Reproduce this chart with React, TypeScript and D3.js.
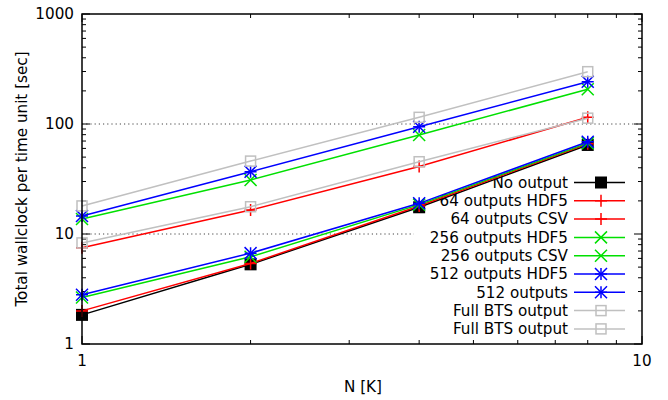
import React from "react";
import * as d3 from "d3";

const nValues = [1, 2, 4, 8];
const seriesNames = [
  "No output",
  "64 outputs HDF5",
  "64 outputs CSV",
  "256 outputs HDF5",
  "256 outputs CSV",
  "512 outputs HDF5",
  "512 outputs",
  "Full BTS output",
  "Full BTS output",
];
const noOutput = [1.84, 5.3, 17.5, 64.5];
const hdf5_64 = [2.0, 5.4, 18.0, 66];
const csv_64 = [7.5, 16.5, 41, 115];
const hdf5_256 = [2.65, 6.2, 18.5, 67];
const csv_256 = [13.7, 31, 79.5, 207];
const hdf5_512 = [2.8, 6.7, 19.0, 69];
const out_512 = [14.6, 36.8, 94.5, 242];
const bts_a = [8.3, 17.7, 45.4, 113];
const bts_b = [18.0, 46, 115, 299];
const seriesColors = ["#000000", "#ff0000", "#ff0000", "#00e000", "#00e000", "#0000ff", "#0000ff", "#c0c0c0", "#c0c0c0"];
const seriesMarkers = ["fsquare", "plus", "plus", "cross", "cross", "star", "star", "osquare", "osquare"];
const seriesValues = [noOutput, hdf5_64, csv_64, hdf5_256, csv_256, hdf5_512, out_512, bts_a, bts_b];
const yTickValues = [1, 10, 100, 1000];
const xTickValues = [1, 10];

const W = 668, H = 400;
const left = 82, right = 642, top = 14, bottom = 344;
const FONT = "DejaVu Sans, sans-serif";
const FS = 15.2;

function Marker({ type, x, y, color }: { type: string; x: number; y: number; color: string }) {
  const s = 6;
  const sw = 1.5;
  if (type === "fsquare") return <rect x={x - s} y={y - s} width={2 * s} height={2 * s} fill={color} />;
  if (type === "osquare") return <rect x={x - 5} y={y - 5} width={10} height={10} fill="none" stroke={color} strokeWidth={sw} />;
  const plus = <path d={`M${x - s},${y}H${x + s}M${x},${y - s}V${y + s}`} stroke={color} strokeWidth={sw} />;
  const cross = <path d={`M${x - s},${y - s}L${x + s},${y + s}M${x - s},${y + s}L${x + s},${y - s}`} stroke={color} strokeWidth={sw} />;
  if (type === "plus") return plus;
  if (type === "cross") return cross;
  return <g>{plus}{cross}</g>;
}

export default function App() {
  const x = d3.scaleLog().domain([1, 10]).range([left, right]);
  const y = d3.scaleLog().domain([1, 1000]).range([bottom, top]);
  const line = d3.line<number>().x((_, i) => x(nValues[i])).y((d) => y(d));

  const yMinor: number[] = [];
  for (let dec = 1; dec < 1000; dec *= 10) for (let k = 2; k <= 9; k++) yMinor.push(dec * k);
  const xMinor: number[] = [];
  for (let k = 2; k <= 9; k++) xMinor.push(k);

  const legendY0 = 182.5, legendDy = 18.3;
  const nL = seriesNames.length;

  return (
    <svg width={W} height={H} style={{ display: "block", position: "absolute", left: 0, top: 0 }} fontFamily={FONT}>
      <rect width={W} height={H} fill="#fff" />
      {/* grid */}
      {yTickValues.filter((v) => v > 1 && v < 1000).map((v) => (
        <line key={"g" + v} x1={left} x2={right} y1={y(v)} y2={y(v)} stroke="#444" strokeWidth={1} strokeDasharray="1.2,3" />
      ))}
      {/* opaque key background */}
      <rect x={414} y={legendY0 - 10} width={right - 1 - 414} height={(nL - 1) * legendDy + 20} fill="#fff" />
      {/* ticks */}
      {yTickValues.map((v) => (
        <g key={"yt" + v}>
          <line x1={left} x2={left + 8} y1={y(v)} y2={y(v)} stroke="#000" />
          <line x1={right} x2={right - 8} y1={y(v)} y2={y(v)} stroke="#000" />
          <text x={left - 8} y={y(v)} dy="0.35em" textAnchor="end" fontSize={FS}>{v}</text>
        </g>
      ))}
      {yMinor.map((v) => (
        <g key={"ym" + v}>
          <line x1={left} x2={left + 4} y1={y(v)} y2={y(v)} stroke="#000" />
          <line x1={right} x2={right - 4} y1={y(v)} y2={y(v)} stroke="#000" />
        </g>
      ))}
      {xTickValues.map((v) => (
        <g key={"xt" + v}>
          <line x1={x(v)} x2={x(v)} y1={bottom} y2={bottom - 8} stroke="#000" />
          <line x1={x(v)} x2={x(v)} y1={top} y2={top + 8} stroke="#000" />
          <text x={x(v)} y={bottom + 22} textAnchor="middle" fontSize={FS}>{v}</text>
        </g>
      ))}
      {xMinor.map((v) => (
        <g key={"xm" + v}>
          <line x1={x(v)} x2={x(v)} y1={bottom} y2={bottom - 4} stroke="#000" />
          <line x1={x(v)} x2={x(v)} y1={top} y2={top + 4} stroke="#000" />
        </g>
      ))}
      {/* legend */}
      {seriesNames.map((name, si) => {
        const ly = legendY0 + si * legendDy;
        return (
          <g key={"l" + si}>
            <text x={568} y={ly} dy="0.35em" textAnchor="end" fontSize={FS}>{name}</text>
            <line x1={574} x2={625} y1={ly} y2={ly} stroke={seriesColors[si]} strokeWidth={1.5} />
            <Marker type={seriesMarkers[si]} x={601} y={ly} color={seriesColors[si]} />
          </g>
        );
      })}
      {/* series */}
      {seriesValues.map((vals, si) => (
        <g key={"s" + si}>
          <path d={line(vals) || ""} fill="none" stroke={seriesColors[si]} strokeWidth={1.5} />
          {vals.map((v, i) => (
            <Marker key={i} type={seriesMarkers[si]} x={x(nValues[i])} y={y(v)} color={seriesColors[si]} />
          ))}
        </g>
      ))}
      {/* border */}
      <rect x={left} y={top} width={right - left} height={bottom - top} fill="none" stroke="#000" strokeWidth={1.5} />
      {/* axis labels */}
      <text x={363} y={392} textAnchor="middle" fontSize={FS}>N [K]</text>
      <text transform={`translate(22,${(top + bottom) / 2}) rotate(-90)`} textAnchor="middle" dy="0.35em" fontSize={FS}>
        Total wallclock per time unit [sec]
      </text>
    </svg>
  );
}
